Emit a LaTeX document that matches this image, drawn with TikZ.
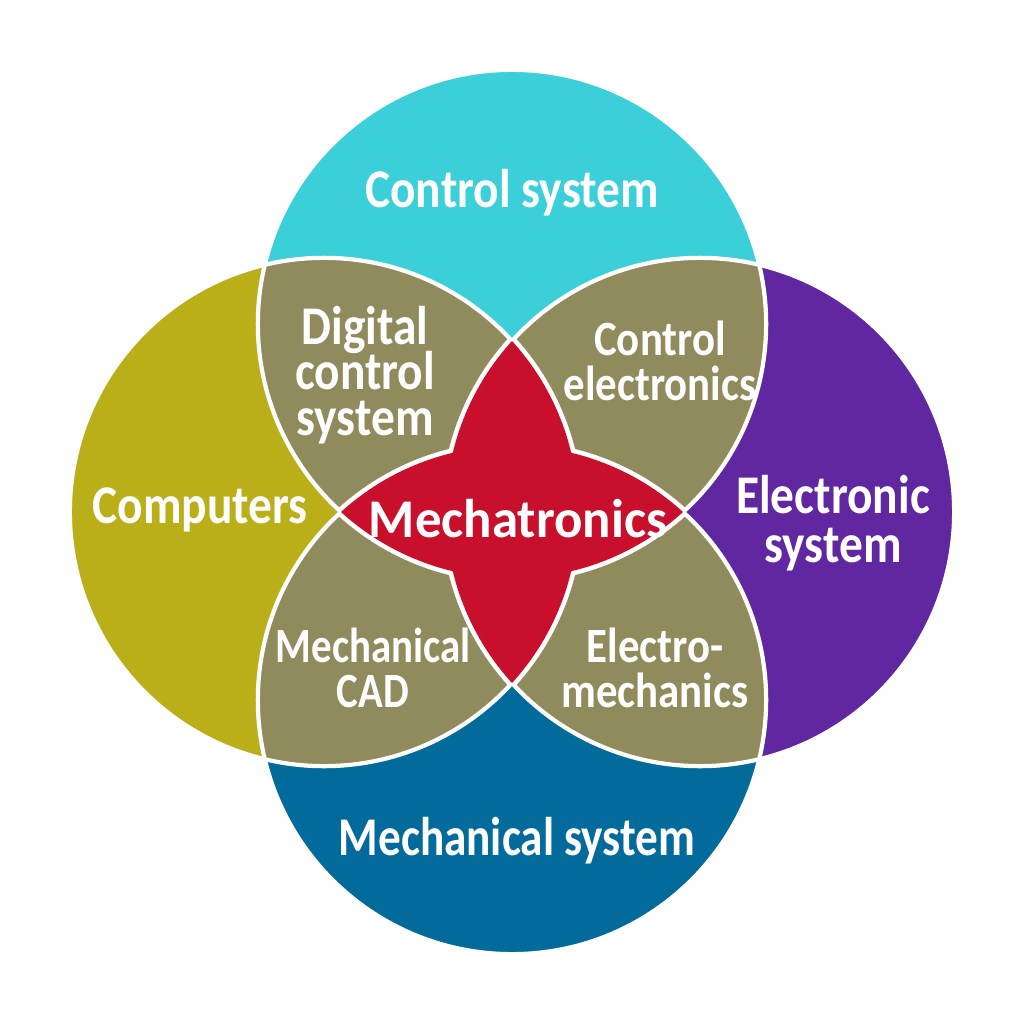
\documentclass[tikz,border=0pt]{standalone}
\usepackage{fontspec}
\setmainfont{Carlito}[FakeStretch=0.87]
\newfontfamily\mtxfont{Carlito}[FakeStretch=0.97]
\newfontfamily\narrowfont{Carlito}[FakeStretch=0.83]
\usepackage{tikz}
\usetikzlibrary{positioning}
\definecolor{cTop}{HTML}{3BCFD9}
\definecolor{cLeft}{HTML}{BAAF19}
\definecolor{cRight}{HTML}{6127A1}
\definecolor{cBot}{HTML}{036B9C}
\definecolor{cOver}{HTML}{8F8B5D}
\definecolor{cMid}{HTML}{C8102D}
\newcommand{\lblfont}{\fontsize{15.5pt}{12.8pt}\selectfont\bfseries}
\newcommand{\subfont}{\fontsize{14pt}{12.6pt}\selectfont\bfseries}
\tikzset{
  lbl/.style={text=white, align=center, anchor=base, inner sep=0pt, font=\lblfont},
  sublbl/.style={lbl, font=\subfont},
  rim/.style={draw=white, line width=1.2pt},
  starrim/.style={draw=white, line width=2.6pt},
}
\newcommand{\rr}{2.54cm}
\lineskiplimit=-20pt

\begin{document}
\begin{tikzpicture}[x=0.01cm, y=-0.01cm]
  \useasboundingbox (0,0) rectangle (1024,1024);
  \coordinate (T) at (512, 324);
  \coordinate (L) at (324, 512);
  \coordinate (R) at (700, 512);
  \coordinate (B) at (512, 700);
  % the four fields
  \fill[cTop] (T) circle[radius=\rr];
  \fill[cLeft] (L) circle[radius=\rr];
  \fill[cRight] (R) circle[radius=\rr];
  \fill[cBot] (B) circle[radius=\rr];
  % pairwise overlaps
  \begin{scope}
    \clip (T) circle[radius=\rr];
    \fill[cOver] (L) circle[radius=\rr];
    \fill[cOver] (R) circle[radius=\rr];
  \end{scope}
  \begin{scope}
    \clip (B) circle[radius=\rr];
    \fill[cOver] (L) circle[radius=\rr];
    \fill[cOver] (R) circle[radius=\rr];
  \end{scope}
  \foreach \c in {T,L,R,B}
    \draw[rim] (\c) circle[radius=\rr];
  % centre star: outline first, then the fill over it
  \begin{scope}
    \clip (L) circle[radius=\rr];
    \draw[starrim] (R) circle[radius=\rr];
  \end{scope}
  \begin{scope}
    \clip (R) circle[radius=\rr];
    \draw[starrim] (L) circle[radius=\rr];
  \end{scope}
  \begin{scope}
    \clip (T) circle[radius=\rr];
    \draw[starrim] (B) circle[radius=\rr];
  \end{scope}
  \begin{scope}
    \clip (B) circle[radius=\rr];
    \draw[starrim] (T) circle[radius=\rr];
  \end{scope}
  \begin{scope}
    \clip (L) circle[radius=\rr];
    \fill[cMid] (R) circle[radius=\rr];
  \end{scope}
  \begin{scope}
    \clip (T) circle[radius=\rr];
    \fill[cMid] (B) circle[radius=\rr];
  \end{scope}
  % labels
  \node[lbl] (ctrl) at (512, 207) {Control system};
  \node[lbl] (comp) at (200, 523) {Computers};
  \node[lbl, font=\fontsize{15.5pt}{13.9pt}\selectfont\bfseries] (elec) at (833, 562) {Electronic\\system};
  \node[lbl, font=\lblfont\narrowfont] (mech) at (517, 855) {Mechanical system};
  \node[lbl] (dcs) at (365, 435) {Digital\\control\\system};
  \node[sublbl] (ce) at (660, 400) {Control\\electronics};
  \node[sublbl, font=\subfont\narrowfont] (cad) at (373, 707) {Mechanical\\CAD};
  \node[sublbl] (em) at (655, 707) {Electro-\\mechanics};
  \node[lbl, font=\lblfont\mtxfont] (mtx) at (518, 537) {Mechatronics};
\end{tikzpicture}
\end{document}
